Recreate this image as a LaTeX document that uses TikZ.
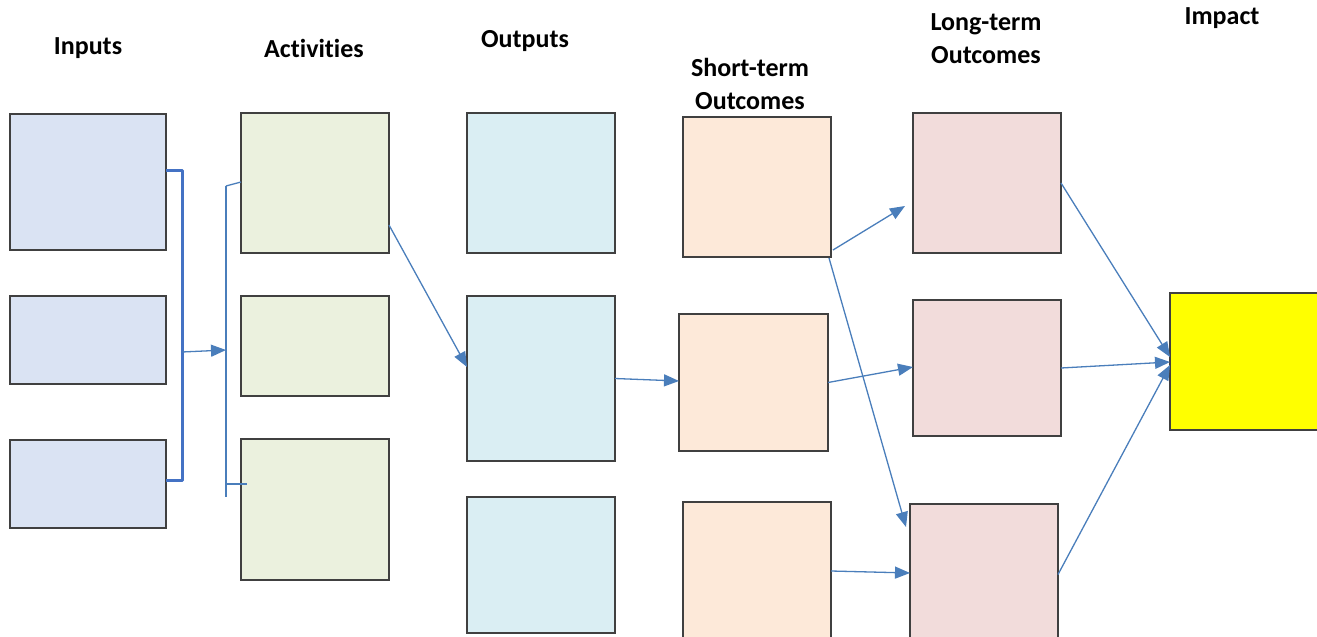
\documentclass[tikz,border=0pt]{standalone}
\usepackage{fontspec}
\setmainfont{Carlito}[Ligatures=NoCommon]
\usetikzlibrary{arrows.meta}
\definecolor{inpfill}{HTML}{DAE3F3}
\definecolor{actfill}{HTML}{EBF1DE}
\definecolor{outfill}{HTML}{DAEEF3}
\definecolor{stfill}{HTML}{FDE9D9}
\definecolor{ltfill}{HTML}{F2DCDB}
\definecolor{impfill}{HTML}{FFFF00}
\definecolor{boxline}{HTML}{404040}
\definecolor{conn}{HTML}{4A7EBB}
\definecolor{brk}{HTML}{4472C4}
\tikzset{
  box/.style={draw=boxline, line width=1.4pt, inner sep=0pt, outer sep=0pt},
  conarrow/.style={draw=conn, line width=1.3pt, -{Triangle[length=15pt,width=12pt]}},
  conline/.style={draw=conn, line width=1.3pt},
  bracket/.style={draw=brk, line width=3pt},
  heading/.style={font=\fontsize{26}{33}\selectfont\bfseries, align=center, text=black, inner sep=0pt}
}
\begin{document}
\begin{tikzpicture}[x=1pt,y=-1pt]
\useasboundingbox (0,0) rectangle (1317,637);
\clip (0,0) rectangle (1317,637);
% headings
\node[heading] (hin) at (88,48) {Inputs};
\node[heading] (hac) at (314,48) {Activities};
\node[heading] (hout) at (525,41) {Outputs};
\node[heading] (hst) at (750,84) {Short-term\\Outcomes};
\node[heading] (hlt) at (986,39) {Long-term\\Outcomes};
\node[heading] (him) at (1222,18) {Impact};
% boxes
\node[box, fill=inpfill, minimum width=156pt, minimum height=136pt] (i1) at (88,182) {};
\node[box, fill=inpfill, minimum width=156pt, minimum height=88pt] (i2) at (88,340) {};
\node[box, fill=inpfill, minimum width=156pt, minimum height=88pt] (i3) at (88,484) {};
\node[box, fill=actfill, minimum width=148pt, minimum height=140pt] (a1) at (315,183) {};
\node[box, fill=actfill, minimum width=148pt, minimum height=100pt] (a2) at (315,346) {};
\node[box, fill=actfill, minimum width=148pt, minimum height=141pt] (a3) at (315,509.5) {};
\node[box, fill=outfill, minimum width=148pt, minimum height=140pt] (o1) at (541,183) {};
\node[box, fill=outfill, minimum width=148pt, minimum height=165pt] (o2) at (541,378.5) {};
\node[box, fill=outfill, minimum width=148pt, minimum height=136pt] (o3) at (541,565) {};
\node[box, fill=stfill, minimum width=148pt, minimum height=140pt] (s1) at (757,187) {};
\node[box, fill=stfill, minimum width=149pt, minimum height=137pt] (s2) at (753.5,382.5) {};
\node[box, fill=stfill, minimum width=148pt, minimum height=143pt] (s3) at (757,573.5) {};
\node[box, fill=ltfill, minimum width=148pt, minimum height=140pt] (l1) at (987,183) {};
\node[box, fill=ltfill, minimum width=148pt, minimum height=136pt] (l2) at (987,368) {};
\node[box, fill=ltfill, minimum width=148pt, minimum height=141pt] (l3) at (984,574.5) {};
\node[box, fill=impfill, minimum width=155pt, minimum height=137pt] (imp) at (1247.5,361.5) {};
% bracket from inputs
\coordinate (bm) at (182,352);
\coordinate (vt) at (226,186);
\coordinate (vb) at (226,497);
\coordinate (vm) at (226,350);
\coordinate (vtb) at (226,484);
\draw[bracket, line join=round] ([yshift=12pt]i1.east) -| (bm) |- ([yshift=4pt]i3.east);
\draw[conarrow] (bm) -- (vm);
\draw[conline, line width=2pt] (vt) -- (vb);
\draw[conline] (vt) -- ([yshift=1pt]a1.west);
\draw[conline] (vtb) -- ([xshift=6pt,yshift=25.5pt]a3.west);
% connectors
\draw[conarrow] ([yshift=-42pt]a1.east) -- ([yshift=11.5pt]o2.west);
\draw[conarrow] (o2.east) -- ([yshift=1.5pt]s2.west);
\draw[conarrow] ([xshift=2pt,yshift=7pt]s1.south east) -- ([xshift=-8pt,yshift=-23pt]l1.west);
\draw[conarrow] ([xshift=-2pt,yshift=-1pt]s1.south east) -- ([xshift=-4pt,yshift=47.5pt]l3.west);
\draw[conarrow] (s2.east) -- ([yshift=1pt]l2.west);
\draw[conarrow] ([yshift=2.5pt]s3.east) -- ([yshift=1.5pt]l3.west);
\draw[conarrow] (l1.east) -- ([yshift=4.5pt]imp.west);
\draw[conarrow] (l2.east) -- ([yshift=-0.5pt]imp.west);
\draw[conarrow] (l3.east) -- ([yshift=-3.5pt]imp.west);
\end{tikzpicture}
\end{document}
